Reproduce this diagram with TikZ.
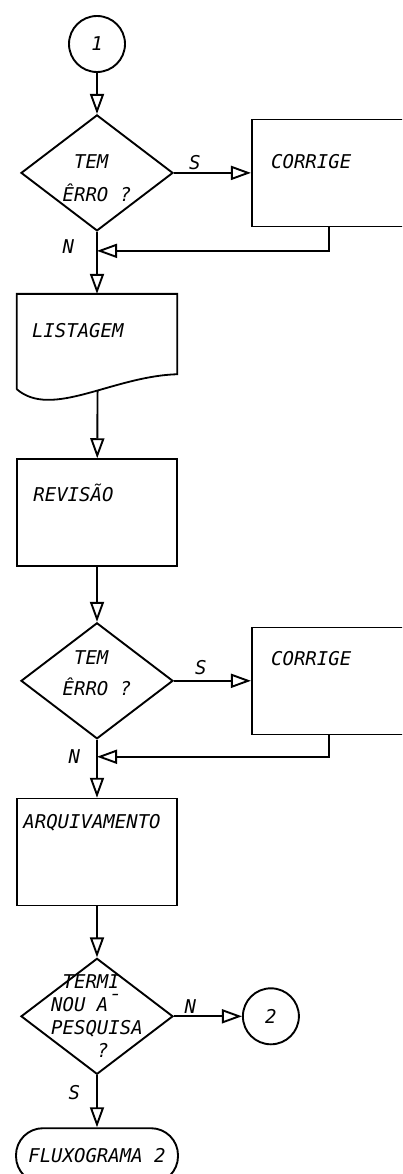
\documentclass[tikz,border=0pt]{standalone}
\usepackage{fontspec}
\setmonofont{DejaVu Sans Mono}
\usetikzlibrary{shapes,arrows.meta,positioning,calc}

\begin{document}
\begin{tikzpicture}[
    x=1pt, y=1pt,
    node distance=50pt,
    every node/.style={font=\ttfamily\itshape\fontsize{19}{23}\selectfont},
    conn/.style={circle, draw, line width=1.9pt, minimum size=56pt, inner sep=0pt},
    decision/.style={diamond, draw, line width=1.9pt, minimum width=152pt, minimum height=116pt, inner sep=0pt, aspect=1.3},
    block/.style={rectangle, draw, line width=1.6pt, minimum width=160pt, minimum height=107pt, inner sep=0pt},
    sidebox/.style={block, minimum width=190pt},
    doc/.style={rectangle, minimum width=160pt, minimum height=95pt, inner sep=0pt},
    term/.style={rectangle, draw, rounded corners=27pt, line width=1.9pt, minimum width=162pt, minimum height=55pt},
    boxtext/.style={anchor=base west, inner sep=0pt},
    dtext/.style={anchor=center, align=left, inner sep=0pt},
    flag/.style={inner sep=2pt},
    outline/.style={draw, line width=1.8pt},
    line/.style={draw, line width=1.9pt, -{Triangle[open, length=20pt, width=14pt]}}
]
\path [use as bounding box, clip] (0,0) rectangle (402,-1174);

% Nodes
\node [conn] (c1) at (97,-44) {1};
\node [decision, below=41pt of c1, label={[dtext, yshift=-5pt]center:\phantom{T}TEM\\[10pt]ÊRRO ?}] (d1) {};
\node [sidebox, right=77pt of d1, label={[boxtext, xshift=20pt, yshift=-50pt]north west:CORRIGE}] (corr1) {};
\node [doc, below=62pt of d1, label={[boxtext, xshift=15pt, yshift=-44pt]north west:LISTAGEM}] (list) {};
\node [block, below=69pt of list, label={[boxtext, xshift=17pt, yshift=-43pt]north west:REVISÃO}] (rev) {};
\node [decision, below=55pt of rev, label={[dtext, yshift=8pt]center:\phantom{T}TEM\\[8pt]ÊRRO ?}] (d2) {};
\node [sidebox, right=77pt of d2, label={[boxtext, xshift=20pt, yshift=-39pt]north west:CORRIGE}] (corr2) {};
\node [block, below=58pt of d2, label={[boxtext, xshift=7pt, yshift=-31pt]north west:ARQUIVAMENTO}] (arq) {};
\node [decision, below=51pt of arq, label={[dtext]center:\phantom{T}TERMI\\NOU A\raisebox{3pt}{¯}\\PESQUISA\\\phantom{TERM}?}] (d3) {};
\node [conn, right=68pt of d3] (c2) {2};
\node [term, below=52pt of d3] (fim) {FLUXOGRAMA 2};

% Junctions on the main line
\coordinate [below=19pt of d1.south] (j1);
\coordinate [below=17pt of d2.south] (j2);

% LISTAGEM outline (document)
\path [outline] (list.south west) -- (list.north west) -- (list.north east) -- ([yshift=15pt]list.south east)
    .. controls +(-65,-2) and +(35,-30) .. (list.south west) coordinate[pos=0.43] (wave);

% Connectors
\path [line] (c1) -- (d1);
\path [line] (d1) -- node[flag, above, pos=0.27] {S} (corr1);
\path [line] (d1) -- node[flag, left=20pt, pos=0.23] {N} (list);
\path [line] ([xshift=-18pt]corr1.south) |- (j1);
\path [line] (wave) -- (rev);
\path [line] (rev) -- (d2);
\path [line] (d2) -- node[flag, above=3pt, pos=0.35] {S} (corr2);
\path [line] (d2) -- node[flag, left=14pt, pos=0.29] {N} (arq);
\path [line] ([xshift=-18pt]corr2.south) |- (j2);
\path [line] (arq) -- (d3);
\path [line] (d3) -- node[flag, above, pos=0.24] {N} (c2);
\path [line] (d3) -- node[flag, left=14pt, pos=0.33] {S} (fim);

\end{tikzpicture}
\end{document}
